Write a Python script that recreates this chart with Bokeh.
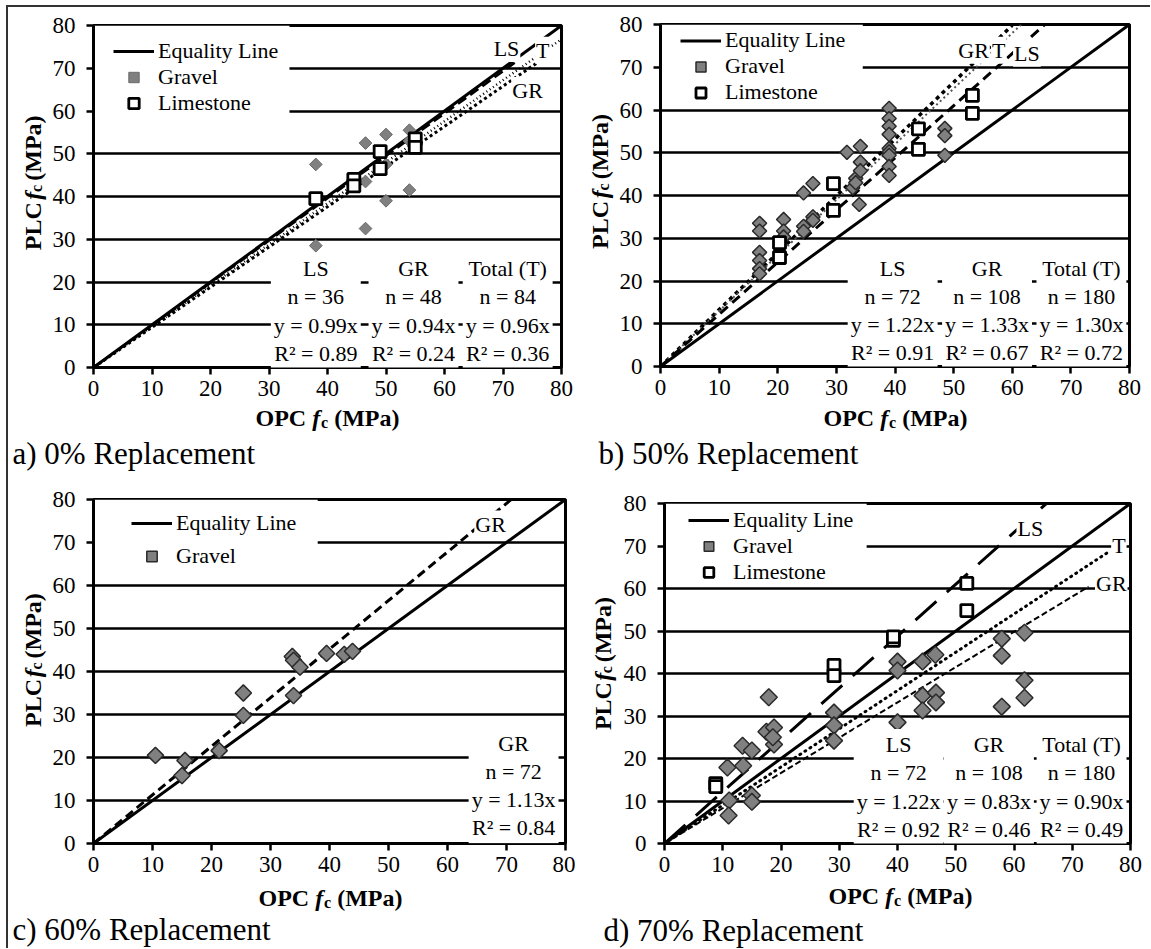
import numpy as np
from bokeh.plotting import figure
from bokeh.models import Range1d, FixedTicker, Label, Legend, LegendItem, BoxAnnotation
from bokeh.layouts import row, column
from bokeh.embed import file_html
from bokeh.resources import INLINE

FONT = "'Liberation Serif'"
TICKS = [0, 10, 20, 30, 40, 50, 60, 70, 80]
EQ_X = [0, 80]

# ---------------- a) 0% Replacement ----------------
a_gravel_x = [38, 38, 46.5, 46.5, 46.5, 50, 50, 50, 54, 54, 54]
a_gravel_y = [47.5, 28.5, 52.5, 43.5, 32.5, 54.5, 47.5, 39, 55.5, 53, 41.5]
a_lime_x = [38, 44.5, 44.5, 49, 49, 55, 55]
a_lime_y = [39.5, 44, 42.5, 50.5, 46.5, 53.5, 51.5]
a_fit_names = ["LS", "GR", "T"]
a_fit_slope = [0.99, 0.94, 0.96]
a_fit_xend = [72, 76, 80]
a_stat_heads = ["LS", "GR", "Total (T)"]
a_stat_n = [36, 48, 84]
a_stat_slope = [0.99, 0.94, 0.96]
a_stat_r2 = [0.89, 0.24, 0.36]

# ---------------- b) 50% Replacement ----------------
b_gravel_x = [16.9, 16.9, 16.9, 16.9, 16.9, 16.9, 21, 21, 21,
              24.4, 24.4, 24.4, 26, 26, 26,
              31.8, 32.8, 33.3, 34.1, 34.1, 34.1, 33.3, 33.9,
              39, 39, 39, 39, 39, 39, 39, 39, 39,
              48.5, 48.5, 48.5]
b_gravel_y = [33.5, 31.7, 26.7, 24.8, 22.9, 21.7, 34.4, 31.7, 30.3,
              40.6, 32.8, 31.6, 42.8, 35.0, 34.2,
              50.1, 41.8, 44.0, 51.5, 47.8, 45.8, 43.0, 37.9,
              60.4, 58.0, 56.2, 54.3, 51.0, 50.2, 49.4, 46.8, 44.7,
              55.7, 54.0, 49.4]
b_lime_x = [20.3, 20.3, 29.5, 29.5, 44, 44, 53.2, 53.2]
b_lime_y = [29.0, 25.5, 42.8, 36.5, 55.6, 50.8, 63.4, 59.2]
b_fit_names = ["GR", "T", "LS"]
b_fit_slope = [1.33, 1.30, 1.22]
b_fit_xend = [60, 61.5, 65.5]
b_stat_heads = ["LS", "GR", "Total (T)"]
b_stat_n = [72, 108, 180]
b_stat_slope = [1.22, 1.33, 1.30]
b_stat_r2 = [0.91, 0.67, 0.72]

# ---------------- c) 60% Replacement ----------------
c_gravel_x = [10.5, 15.5, 15.0, 21.3, 25.4, 25.4, 33.7, 33.9, 35.0, 33.9, 39.5, 42.5, 43.9]
c_gravel_y = [20.5, 19.3, 15.8, 21.6, 35.0, 29.8, 43.5, 42.6, 41.0, 34.4, 44.2, 44.0, 44.7]
c_fit_names = ["GR"]
c_fit_slope = [1.13]
c_fit_xend = [70.8]
c_stat_heads = ["GR"]
c_stat_n = [72]
c_stat_slope = [1.13]
c_stat_r2 = [0.84]

# ---------------- d) 70% Replacement ----------------
d_gravel_x = [10.8, 11.1, 11.0, 13.4, 13.5, 15.0, 15.0, 15.0,
              17.9, 17.5, 18.8, 18.8, 18.6,
              29.1, 29.1, 29.1,
              40.0, 40.0, 40.0, 44.3, 44.3, 44.3, 46.5, 46.6, 46.6,
              57.9, 57.9, 57.9, 61.8, 61.8, 61.8]
d_gravel_y = [17.9, 10.1, 6.6, 23.0, 18.3, 21.9, 11.3, 9.8,
              34.4, 26.3, 27.3, 23.3, 25.0,
              30.8, 27.8, 24.2,
              42.8, 40.7, 28.5, 42.8, 34.8, 31.3, 44.4, 35.5, 33.2,
              48.2, 44.2, 32.2, 49.6, 38.4, 34.3]
d_lime_x = [8.8, 8.8, 29.1, 29.1, 39.3, 39.3, 51.9, 51.9]
d_lime_y = [14.1, 13.4, 41.9, 39.5, 47.8, 48.6, 61.2, 54.8]
d_fit_names = ["LS", "GR", "T"]
d_fit_slope = [1.22, 0.83, 0.90]
d_fit_xend = [65.5, 72.8, 76.5]
d_stat_heads = ["LS", "GR", "Total (T)"]
d_stat_n = [72, 108, 180]
d_stat_slope = [1.22, 0.83, 0.90]
d_stat_r2 = [0.92, 0.46, 0.49]

LEG_EQ = "Equality Line"
LEG_GR = "Gravel"
LEG_LS = "Limestone"

# bold widths (per 1000 em) for axis-title composition
BW = {'O': 778, 'P': 611, 'C': 722, 'L': 667, ' ': 250, '(': 333, 'M': 944, 'a': 500, ')': 333}


def tw(s, size):
    return sum(BW[ch] for ch in s) * size / 1000.0


PANELS = [
    dict(box=(8, 7, 575, 475), frame=(93, 25, 561, 367),
         gx=a_gravel_x, gy=a_gravel_y, lx=a_lime_x, ly=a_lime_y,
         fits=list(zip(a_fit_names, a_fit_slope, a_fit_xend)),
         fit_style={"LS": ("10 5", 2.5, "black", (70.6, 74.6)),
                    "GR": ("3 3", 3, "black", (74.2, 64.8)),
                    "T": ("1 3", 2.5, "black", (76.8, 74.2))},
         stats=list(zip(a_stat_heads, a_stat_n, a_stat_slope, a_stat_r2)),
         stat_x=[38, 54.7, 70.8], stat_y=13.2,
         gsize=9, gline="#6a6a6a", gw=1.0,
         legend=dict(vx=20, top=13, lh=26, sp=0), hide=(33.5, 57),
         cap="a) 0% Replacement", cap_xy=(12, 453),
         xt=(327, 417), yt=32),
    dict(box=(575, 7, 1150, 475), frame=(660, 24, 1129, 366),
         gx=b_gravel_x, gy=b_gravel_y, lx=b_lime_x, ly=b_lime_y,
         fits=list(zip(b_fit_names, b_fit_slope, b_fit_xend)),
         fit_style={"GR": ("4 4", 3.5, "black", (53.4, 74.0)),
                    "T": ("2 3", 2, "#555555", (57.7, 74.0)),
                    "LS": ("10 6", 3, "black", (62.5, 73.3))},
         stats=list(zip(b_stat_heads, b_stat_n, b_stat_slope, b_stat_r2)),
         stat_x=[39.6, 55.7, 71.8], stat_y=13.1,
         gsize=10, gline="#2a2a2a", gw=1.5,
         legend=dict(vx=20, top=6, lh=25, sp=0), hide=(34.5, 62),
         cap="b) 50% Replacement", cap_xy=(598, 453),
         xt=(895, 417), yt=599),
    dict(box=(8, 475, 575, 948), frame=(93, 499, 565, 843),
         gx=c_gravel_x, gy=c_gravel_y, lx=None, ly=None,
         fits=list(zip(c_fit_names, c_fit_slope, c_fit_xend)),
         fit_style={"GR": ("9 5", 3, "black", (67.3, 74.3))},
         stats=list(zip(c_stat_heads, c_stat_n, c_stat_slope, c_stat_r2)),
         stat_x=[71.2], stat_y=13.5,
         gsize=11.5, gline="#2a2a2a", gw=1.5,
         legend=dict(vx=38, top=11, lh=26, sp=7), hide=(38, 62),
         cap="c) 60% Replacement", cap_xy=(12, 929),
         xt=(330, 897), yt=32),
    dict(box=(575, 475, 1150, 948), frame=(664, 503, 1130, 843),
         gx=d_gravel_x, gy=d_gravel_y, lx=d_lime_x, ly=d_lime_y,
         fits=list(zip(d_fit_names, d_fit_slope, d_fit_xend)),
         fit_style={"LS": ("28 14", 3, "black", (62.8, 74.1)),
                    "GR": ("6 3", 2, "black", (76.7, 61.2)),
                    "T": ("1 5", 3, "black", (78.0, 70.1))},
         stats=list(zip(d_stat_heads, d_stat_n, d_stat_slope, d_stat_r2)),
         stat_x=[40.2, 55.7, 71.6], stat_y=13.3,
         gsize=12, gline="#2a2a2a", gw=1.5,
         legend=dict(vx=24, top=10, lh=24, sp=0), hide=(34.7, 62),
         cap="d) 70% Replacement", cap_xy=(603, 930),
         xt=(900, 895), yt=602),
]

Y_BORDER = 46     # room for y tick labels inside the plot figure
X_BORDER = 39     # room for x tick labels inside the plot figure
TITLE_SZ = 24
SUB_SZ = 16


def strip(x0, y0, x1, y1):
    """Blank figure whose data coordinates are page pixels (y down)."""
    s = figure(width=x1 - x0, height=y1 - y0, x_range=Range1d(x0, x1), y_range=Range1d(y1, y0),
               output_backend="svg", toolbar_location=None,
               x_axis_location=None, y_axis_location=None,
               min_border=0, min_border_left=0, min_border_right=0,
               min_border_top=0, min_border_bottom=0)
    s.outline_line_color = None
    s.background_fill_color = "white"
    s.border_fill_color = "white"
    s.grid.visible = False
    return s


def title_parts(first, gap):
    sz, ssz = TITLE_SZ, SUB_SZ
    w_first = tw(first, sz)
    w_sp = tw(" ", sz) + gap
    w_f = 333 * sz / 1000.0
    w_c = 444 * ssz / 1000.0
    parts = [(first, "bold", sz, 0, 0),
             ("f", "bold italic", sz, 0, w_first + w_sp),
             ("c", "bold", ssz, 5, w_first + w_sp + w_f + 1),
             ("(MPa)", "bold", sz, 0, w_first + w_sp + w_f + w_c + tw(" ", sz) + 1)]
    total = parts[-1][4] + tw("(MPa)", sz)
    return parts, total


def build(cfg):
    px0, py0, px1, py1 = cfg["box"]
    L, T, R, B = cfg["frame"]
    fx0 = L - Y_BORDER
    fy1 = B + X_BORDER

    p = figure(width=px1 - fx0, height=fy1 - py0, x_range=Range1d(0, 80), y_range=Range1d(0, 80),
               output_backend="svg", toolbar_location=None,
               min_border_left=L - fx0, min_border_right=px1 - R,
               min_border_top=T - py0, min_border_bottom=fy1 - B)
    p.background_fill_color = "white"
    p.border_fill_color = "white"
    p.outline_line_color = "black"
    p.outline_line_width = 3

    for ax in (p.xaxis[0], p.yaxis[0]):
        ax.ticker = FixedTicker(ticks=TICKS)
        ax.major_label_text_font = FONT
        ax.major_label_text_font_size = "23px"
        ax.major_label_text_color = "black"
        ax.axis_line_width = 3
        ax.axis_line_color = "black"
        ax.major_tick_line_width = 2.5
        ax.major_tick_line_color = "black"
        ax.major_tick_out = 7
        ax.major_tick_in = 0
        ax.minor_tick_line_color = None
    p.xaxis[0].major_label_standoff = 6
    p.yaxis[0].major_label_standoff = 11
    p.xgrid.visible = False
    p.ygrid.ticker = FixedTicker(ticks=TICKS)
    p.ygrid.grid_line_color = "black"
    p.ygrid.grid_line_width = 2.5

    hx, hy = cfg["hide"]
    p.add_layout(BoxAnnotation(left=0, right=hx, bottom=hy, top=80, fill_color="white",
                               fill_alpha=1, line_color=None, level="underlay"))

    for name, slope, xend in cfg["fits"]:
        dash, w, col, _ = cfg["fit_style"][name]
        p.line([0, xend], [0, slope * xend], line_color=col, line_width=w,
               line_dash=dash, line_cap="round" if dash == "1 5" else "butt")
    eq = p.line(EQ_X, EQ_X, line_color="black", line_width=3)

    gr = p.scatter(cfg["gx"], cfg["gy"], marker="square", angle=np.pi / 4,
                   size=cfg["gsize"], fill_color="#808080", line_color=cfg["gline"],
                   line_width=cfg["gw"])
    items = [LegendItem(label=LEG_EQ, renderers=[eq]), LegendItem(label=LEG_GR, renderers=[gr])]
    if cfg["lx"] is not None:
        ls = p.scatter(cfg["lx"], cfg["ly"], marker="square", size=12,
                       fill_color="white", line_color="black", line_width=2.8)
        items.append(LegendItem(label=LEG_LS, renderers=[ls]))

    lg = cfg["legend"]
    n = len(items)
    leg_h = n * lg["lh"] + (n - 1) * lg["sp"]
    leg = Legend(items=items, location=(lg["vx"], (B - T) - lg["top"] - leg_h),
                 background_fill_alpha=0, border_line_color=None,
                 label_text_font=FONT, label_text_font_size="22px", label_text_color="black",
                 glyph_width=41, glyph_height=lg["lh"], label_height=lg["lh"],
                 spacing=lg["sp"], padding=0, margin=0, label_standoff=4)
    p.add_layout(leg)

    for name, slope, xend in cfg["fits"]:
        _, _, _, (tx, ty) = cfg["fit_style"][name]
        p.add_layout(Label(x=tx, y=ty, text=name, text_align="center", text_baseline="middle",
                           text_font=FONT, text_font_size="22px", text_color="black",
                           background_fill_color="white", padding=1))

    for (head, nn, s, r2), x in zip(cfg["stats"], cfg["stat_x"]):
        txt = f"{head}\nn = {nn}\ny = {s:.2f}x\nR\u00b2 = {r2:.2f}"
        p.add_layout(Label(x=x, y=cfg["stat_y"], text=txt, text_align="center",
                           text_baseline="middle", text_font=FONT, text_font_size="22px",
                           text_color="black", text_line_height=1.13,
                           background_fill_color="white", padding=3))

    # ---- y-axis title strip (left of the plot figure), reads bottom to top
    ys = strip(px0, py0, fx0, fy1)
    parts, total = title_parts("PLC", 5)
    ymid = (T + B) / 2.0
    bx = cfg["yt"]
    for t, st, sz, dsub, off in parts:
        ys.add_layout(Label(x=bx + 0.8 * dsub, y=ymid + total / 2 - off, text=t, text_font=FONT,
                            text_font_style=st, text_font_size=f"{sz}px", angle=np.pi / 2,
                            text_align="left", text_baseline="middle", text_color="black"))

    # ---- bottom strip: x-axis title and caption
    bs = strip(px0, fy1, px1, py1)
    parts, total = title_parts("OPC", 0)
    xc, yc = cfg["xt"]
    for t, st, sz, dsub, off in parts:
        bs.add_layout(Label(x=xc - total / 2 + off, y=yc + dsub, text=t, text_font=FONT,
                            text_font_style=st, text_font_size=f"{sz}px",
                            text_align="left", text_baseline="middle", text_color="black"))
    cx, cy = cfg["cap_xy"]
    bs.add_layout(Label(x=cx, y=cy, text=cfg["cap"], text_font=FONT, text_font_size="31px",
                        text_align="left", text_baseline="middle", text_color="black"))

    return column(row(ys, p, spacing=0), bs, spacing=0)


panels = [build(c) for c in PANELS]
root = column(row(panels[0], panels[1], spacing=0), row(panels[2], panels[3], spacing=0),
              spacing=0, margin=(5, 0, 0, 6),
              styles={"border-top": "2px solid #333333", "border-left": "2px solid #333333"})

open("out.html", "w").write(file_html(root, INLINE, title="PLC vs OPC"))
